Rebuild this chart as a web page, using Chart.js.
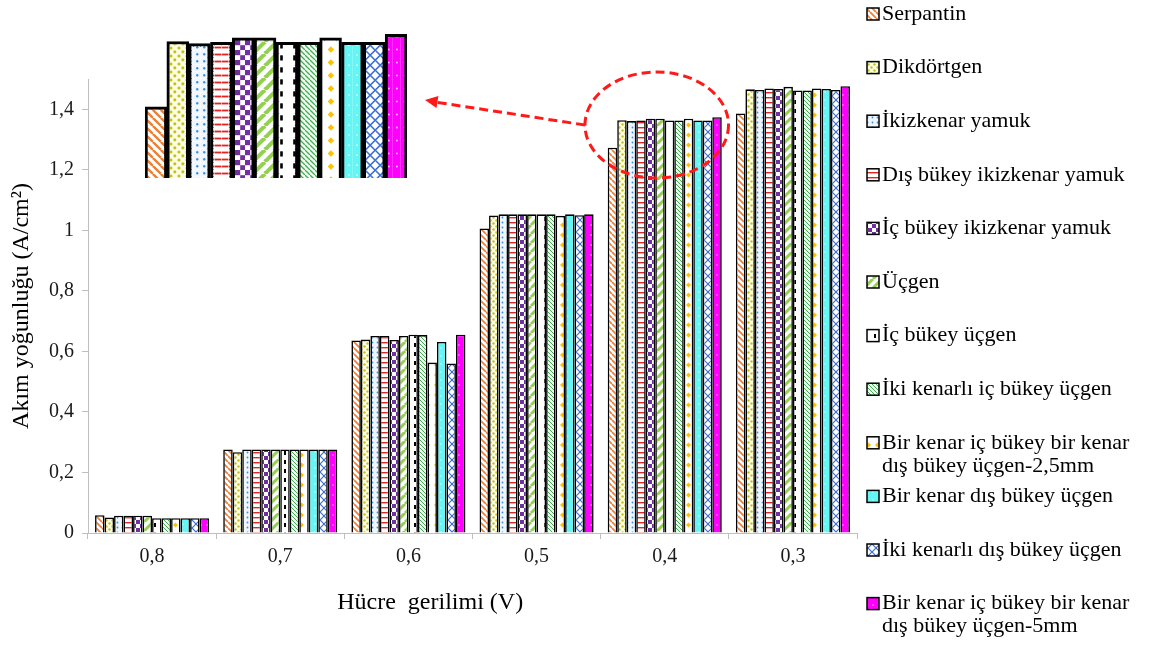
<!DOCTYPE html>
<html>
<head>
<meta charset="utf-8">
<script src="https://cdn.jsdelivr.net/npm/chart.js@4.4.1/dist/chart.umd.min.js"></script>
<style>
  html, body { margin: 0; padding: 0; background: #fff; }
  #wrap { position: relative; width: 1152px; height: 648px; }
  #main { position: absolute; left: 0; top: 0; }
  #inset { position: absolute; left: 145px; top: 30px; }
</style>
</head>
<body>
<div id="wrap">
  <canvas id="main" width="1152" height="648"></canvas>
  <canvas id="inset" width="262" height="148"></canvas>
</div>
<script>
// cell voltage categories
const voltages = ["0,8", "0,7", "0,6", "0,5", "0,4", "0,3"];

const seriesNames = [
  "Serpantin",
  "Dikdörtgen",
  "İkizkenar yamuk",
  "Dış bükey ikizkenar yamuk",
  "İç bükey ikizkenar yamuk",
  "Üçgen",
  "İç bükey üçgen",
  "İki kenarlı iç bükey üçgen",
  "Bir kenar iç bükey bir kenar\ndış bükey üçgen-2,5mm",
  "Bir kenar dış bükey üçgen",
  "İki kenarlı dış bükey üçgen",
  "Bir kenar iç bükey bir kenar\ndış bükey üçgen-5mm"
];

// current density (A/cm2), one array per flow field
const serpantin          = [0.059, 0.276, 0.636, 1.006, 1.273, 1.386];
const dikdortgen         = [0.051, 0.267, 0.639, 1.049, 1.364, 1.466];
const ikizkenarYamuk     = [0.057, 0.276, 0.651, 1.053, 1.361, 1.464];
const disBukeyIkizkenar  = [0.057, 0.276, 0.651, 1.053, 1.363, 1.469];
const icBukeyIkizkenar   = [0.057, 0.276, 0.638, 1.053, 1.369, 1.467];
const ucgen              = [0.057, 0.276, 0.651, 1.053, 1.369, 1.474];
const icBukeyUcgen       = [0.049, 0.276, 0.655, 1.053, 1.363, 1.462];
const ikiKenarliIcBukey  = [0.049, 0.276, 0.654, 1.053, 1.363, 1.462];
const birKenar25         = [0.049, 0.276, 0.563, 1.048, 1.369, 1.469];
const birKenarDisBukey   = [0.049, 0.276, 0.631, 1.053, 1.363, 1.467];
const ikiKenarliDisBukey = [0.049, 0.276, 0.560, 1.050, 1.363, 1.464];
const birKenar5          = [0.049, 0.276, 0.655, 1.053, 1.374, 1.476];

const allSeries = [serpantin, dikdortgen, ikizkenarYamuk, disBukeyIkizkenar,
  icBukeyIkizkenar, ucgen, icBukeyUcgen, ikiKenarliIcBukey, birKenar25,
  birKenarDisBukey, ikiKenarliDisBukey, birKenar5];

const yTicks = [0, 0.2, 0.4, 0.6, 0.8, 1, 1.2, 1.4];
const zoomIndex = 4; // "0,4" is the zoomed group

const FONT = "'Liberation Serif', 'Times New Roman', serif";

// --- fill patterns ---
function tile(w, h, s, bg, draw) {
  const c = document.createElement("canvas");
  c.width = Math.round(w * s);
  c.height = Math.round(h * s);
  const g = c.getContext("2d");
  g.scale(s, s);
  g.fillStyle = bg;
  g.fillRect(0, 0, w, h);
  draw(g, w, h);
  return g.createPattern(c, "repeat");
}
function diag(g, n, color, lw, up) {
  g.strokeStyle = color;
  g.lineWidth = lw;
  g.beginPath();
  for (let k = -1; k <= 1; k++) {
    if (up) { g.moveTo(k * n, n); g.lineTo(k * n + n, 0); }
    else { g.moveTo(k * n, 0); g.lineTo(k * n + n, n); }
  }
  g.stroke();
}
function dot(g, x, y, r, color) {
  g.fillStyle = color;
  g.beginPath();
  g.arc(x, y, r, 0, Math.PI * 2);
  g.fill();
}
function makePatterns(s) {
  return [
    tile(6, 6, s, "#fff", g => diag(g, 6, "#f07f35", 1.8, false)),
    tile(6, 6, s, "#fdfde0", g => { dot(g, 1.5, 1.5, 1.2, "#c2c21a"); dot(g, 4.5, 4.5, 1.2, "#c2c21a"); }),
    tile(5, 5, s, "#eef5fd", g => dot(g, 2.5, 2.5, 0.9, "#3f8fd6")),
    tile(5, 5, s, "#fff", g => { g.fillStyle = "#e02424"; g.fillRect(0, 2, 5, 1.4); }),
    tile(8, 8, s, "#fff", g => { g.fillStyle = "#7030a0"; g.fillRect(0, 0, 4, 4); g.fillRect(4, 4, 4, 4); }),
    tile(9, 9, s, "#fff", g => diag(g, 9, "#92d050", 3, true)),
    tile(10, 9, s, "#fff", g => { g.fillStyle = "#000"; g.fillRect(4, 1, 2, 4); }),
    tile(4, 4, s, "#f4fbf4", g => diag(g, 4, "#3fae4f", 1, false)),
    tile(9, 10, s, "#fff", g => {
      g.fillStyle = "#ffc000";
      g.beginPath(); g.moveTo(4.5, 2.5); g.lineTo(7, 5); g.lineTo(4.5, 7.5); g.lineTo(2, 5); g.closePath(); g.fill();
    }),
    tile(6, 8, s, "#66f5f5", g => dot(g, 3, 4, 0.7, "#d8ffff")),
    tile(8, 8, s, "#fff", g => { diag(g, 8, "#3b6fd8", 1.2, true); diag(g, 8, "#3b6fd8", 1.2, false); }),
    tile(6, 10, s, "#ff00ff", g => dot(g, 3, 5, 0.8, "#ffb0ff"))
  ];
}

const mainPatterns = makePatterns(1);
const insetPatterns = makePatterns(1.3);

function fmt(v) {
  return String(Math.round(v * 10) / 10).replace(".", ",");
}

// --- custom legend, axis titles, callout ---
const extrasPlugin = {
  id: "extras",
  afterDatasetsDraw(chart) {
    const ctx = chart.ctx;
    const xs = chart.scales.x, ys = chart.scales.y;
    // dashed ellipse round the 0,4 group
    const catW = xs.width / voltages.length;
    const cx = xs.getPixelForValue(zoomIndex) - 8;
    const cy = ys.getPixelForValue(1.348);
    const rx = catW * 0.56, ry = 53;
    ctx.save();
    ctx.strokeStyle = "#ff1a1a";
    ctx.lineWidth = 3;
    ctx.setLineDash([9, 5]);
    ctx.beginPath();
    ctx.ellipse(cx, cy, rx, ry, 0, 0, Math.PI * 2);
    ctx.stroke();
    // arrow towards the inset
    const inset = document.getElementById("inset");
    const tipX = inset.offsetLeft + inset.width + 18;
    const tipY = inset.offsetTop + 70;
    const sx = cx - rx, sy = cy;
    ctx.beginPath();
    ctx.moveTo(sx, sy);
    ctx.lineTo(tipX + 10, tipY + 2);
    ctx.stroke();
    ctx.setLineDash([]);
    const ang = Math.atan2(sy - tipY, sx - tipX);
    ctx.fillStyle = "#ff1a1a";
    ctx.beginPath();
    ctx.moveTo(tipX, tipY);
    ctx.lineTo(tipX + 14 * Math.cos(ang - 0.45), tipY + 14 * Math.sin(ang - 0.45));
    ctx.lineTo(tipX + 14 * Math.cos(ang + 0.45), tipY + 14 * Math.sin(ang + 0.45));
    ctx.closePath();
    ctx.fill();
    ctx.restore();
  },
  afterDraw(chart) {
    const ctx = chart.ctx;
    const area = chart.chartArea;
    ctx.save();
    ctx.fillStyle = "#000";
    // axis titles
    ctx.font = "24px " + FONT;
    ctx.textAlign = "center";
    ctx.textBaseline = "middle";
    ctx.fillText("Hücre  gerilimi (V)", area.left + area.width * 0.445, 603);
    ctx.save();
    ctx.translate(22, (area.top + area.bottom) / 2);
    ctx.rotate(-Math.PI / 2);
    ctx.fillText("Akım yoğunluğu (A/cm²)", 0, 0);
    ctx.restore();
    // legend
    ctx.font = "22px " + FONT;
    ctx.textAlign = "left";
    chart.data.datasets.forEach((ds, i) => {
      const y = 14 + i * 53.6;
      ctx.fillStyle = ds.backgroundColor;
      ctx.fillRect(867, y - 6, 12, 12);
      ctx.strokeStyle = "#000";
      ctx.lineWidth = 1.5;
      ctx.strokeRect(867, y - 6, 12, 12);
      ctx.fillStyle = "#000";
      ds.label.split("\n").forEach((line, k) => ctx.fillText(line, 882, y + k * 23));
    });
    ctx.restore();
  }
};

new Chart(document.getElementById("main"), {
  type: "bar",
  data: {
    labels: voltages,
    datasets: allSeries.map((vals, i) => ({
      label: seriesNames[i],
      data: vals,
      backgroundColor: mainPatterns[i],
      borderColor: "#000",
      borderWidth: 1.6,
      categoryPercentage: 0.89,
      barPercentage: 1
    }))
  },
  options: {
    responsive: false,
    animation: false,
    layout: { padding: { left: 41, right: 295, top: 79, bottom: 73 } },
    plugins: { legend: { display: false }, tooltip: { enabled: false } },
    scales: {
      x: {
        grid: { drawOnChartArea: false, color: "#bfbfbf", tickLength: 6, offset: true },
        border: { color: "#bfbfbf", width: 1 },
        ticks: { font: { family: FONT, size: 20 }, color: "#1a1a1a", padding: 6 }
      },
      y: {
        min: 0,
        max: 1.5,
        afterBuildTicks: axis => { axis.ticks = yTicks.map(v => ({ value: v })); },
        grid: { drawOnChartArea: false, color: "#bfbfbf", tickLength: 6 },
        border: { color: "#bfbfbf", width: 1 },
        ticks: { font: { family: FONT, size: 20 }, color: "#1a1a1a", padding: 8, callback: v => fmt(v) }
      }
    }
  },
  plugins: [extrasPlugin]
});

// zoomed view of the 0,4 group
new Chart(document.getElementById("inset"), {
  type: "bar",
  data: {
    labels: seriesNames,
    datasets: [{
      data: allSeries.map(s => s[zoomIndex]),
      backgroundColor: insetPatterns,
      borderColor: "#000",
      borderWidth: 3,
      categoryPercentage: 1,
      barPercentage: 1
    }]
  },
  options: {
    responsive: false,
    animation: false,
    layout: { padding: 0 },
    plugins: { legend: { display: false }, tooltip: { enabled: false } },
    scales: {
      x: { display: false },
      y: { display: false, min: 1.174, max: 1.38 }
    }
  }
});
</script>
</body>
</html>
